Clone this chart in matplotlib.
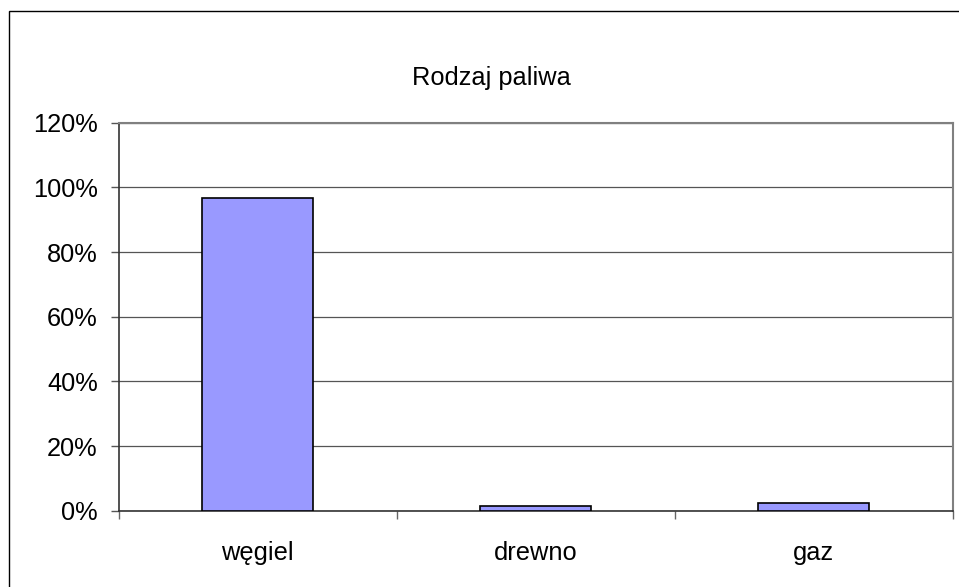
import matplotlib.pyplot as plt
from matplotlib.patches import Rectangle
from matplotlib.ticker import FixedLocator, FuncFormatter

categories = ['węgiel', 'drewno', 'gaz']
values = [96.6, 1.4, 2.5]
y_ticks = [0, 20, 40, 60, 80, 100, 120]
title = 'Rodzaj paliwa'

plt.rcParams['font.family'] = ['Liberation Sans', 'DejaVu Sans']

W, H = 959, 587
fig = plt.figure(figsize=(W / 100, H / 100), dpi=100)

# outer chart frame (runs past right/bottom edge like the original)
fig.patches.append(Rectangle((8.5 / W, -0.1), 1.2, (H - 10.5) / H + 0.1,
                             transform=fig.transFigure, fill=False,
                             edgecolor='black', linewidth=1.0))

left, right = 118.5 / W, 952.5 / W
bottom, top = (H - 510.7) / H, (H - 122.7) / H
ax = fig.add_axes([left, bottom, right - left, top - bottom])

x = range(len(categories))
ax.bar(x, values, width=0.4, color='#9999FF', edgecolor='black', linewidth=1.2, zorder=3)

ax.set_xlim(-0.5, len(categories) - 0.5)
ax.set_ylim(0, 120)
ax.set_yticks(y_ticks)
ax.yaxis.set_major_formatter(FuncFormatter(lambda v, p: f'{v:.0f}%'))
ax.grid(axis='y', color='#555555', linewidth=0.9, zorder=1)

ax.xaxis.set_major_locator(FixedLocator([-0.5, 0.5, 1.5, 2.5]))
ax.xaxis.set_minor_locator(FixedLocator(list(x)))
ax.set_xticklabels([])
ax.set_xticklabels(categories, minor=True)
ax.tick_params(axis='x', which='minor', length=0, pad=22, labelsize=18.3)
ax.tick_params(axis='x', which='major', length=6, width=1, color='#666666')
ax.tick_params(axis='y', length=6, width=1, color='#555555', pad=9, labelsize=18.3)

for s in ['left', 'bottom']:
    ax.spines[s].set_color('#333333')
    ax.spines[s].set_linewidth(1.2)
for s in ['top', 'right']:
    ax.spines[s].set_color('#808080')
    ax.spines[s].set_linewidth(1.5)

fig.text(491 / W, (H - 78) / H, title, ha='center', va='center', fontsize=18.3)

fig.savefig('out.png', dpi=100)
